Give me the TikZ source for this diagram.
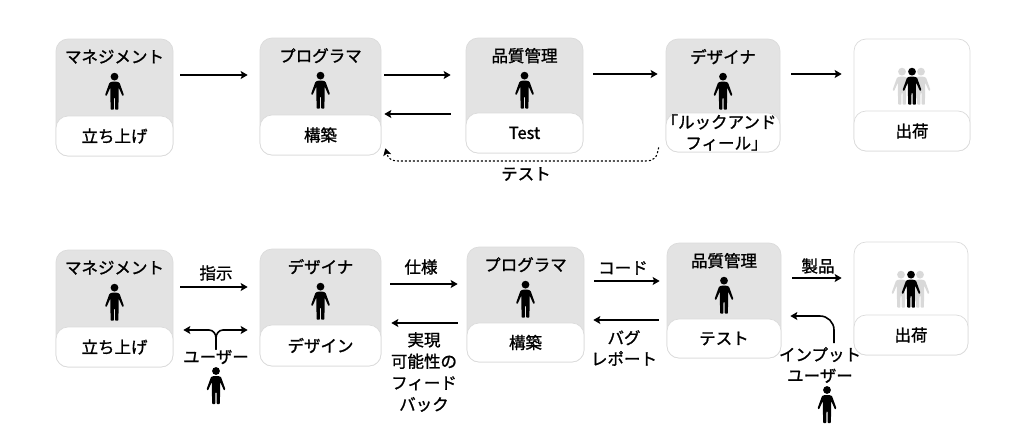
\documentclass[tikz,border=0pt]{standalone}
\usepackage{fontspec}
\setmainfont[FakeBold=1.2]{Noto Sans CJK JP}
\usepackage{xcolor}
\usetikzlibrary{arrows.meta}
\definecolor{kastengrau}{gray}{0.89}
\definecolor{randgrau}{gray}{0.86}
\tikzset{
  Pfeil/.style={line width=1.6pt,->},
  Kasten/.style={draw=randgrau,fill=#1,line width=.7pt,rounded corners=12pt,inner sep=0pt},
  Kopf/.style={font=\fontsize{16.5}{18}\selectfont,inner sep=0pt},
  Schrift/.style={font=\fontsize{16.5}{21}\selectfont,align=center,inner sep=0pt},
  Figur/.pic={
    \fill (0,4) circle (3.9pt);
    \fill[rounded corners=.8pt] (-2.5,9) -- (2.5,9) -- (5,10) -- (9.5,22.5) -- (8,23.5) -- (4.2,15) -- (3.9,37)
      -- (.6,37) -- (.5,25) -- (-.5,25) -- (-.6,37) -- (-3.9,37) -- (-4.2,15) -- (-8,23.5) -- (-9.5,22.5) -- (-5,10) -- cycle;
  }
}
% Name, x, y, Breite, Hoehe, Hoehe unten, Titel, Text unten
\newcommand{\Station}[8]{
  \node[Kasten=kastengrau,minimum width=#4pt,minimum height=#5pt] (#1) at (#2,#3) {};
  \node[Kasten=white,anchor=south,minimum width=#4pt,minimum height=#6pt] (#1-u) at (#1.south) {};
  \node[Kopf] (#1-t) at ([yshift=-18pt]#1.north) {#7};
  \node[Schrift] (#1-s) at (#1-u.center) {#8};
  \pic at ([yshift=-34pt]#1.north) {Figur};
}
\newcommand{\Versand}[6]{
  \node[Kasten=white,minimum width=#4pt,minimum height=#5pt] (#1) at (#2,#3) {};
  \node[Kasten=white,anchor=south,minimum width=#4pt,minimum height=#6pt] (#1-u) at (#1.south) {};
  \node[Schrift] (#1-s) at (#1-u.center) {出荷};
  \pic[black!15] at ([xshift=-10pt,yshift=-29pt]#1.north) {Figur};
  \pic[black!15] at ([xshift=9pt,yshift=-29pt]#1.north) {Figur};
  \pic at ([yshift=-29pt]#1.north) {Figur};
}
\begin{document}
\begin{tikzpicture}[x=1pt,y=-1pt,>={Stealth[inset=1.5pt,length=7pt,width=8pt]}]
\useasboundingbox (0,0) rectangle (1024,439);

%Obere Reihe
\Station{a1}{114.5}{97.5}{117}{117}{40}{マネジメント}{立ち上げ}
\Station{a2}{320.5}{96.5}{121}{117}{40}{プログラマ}{構築}
\Station{a3}{524.5}{95.5}{117}{115}{40}{品質管理}{Test}
\Station{a4}{723}{95.5}{114}{113}{39}{デザイナ}{\hspace*{-8pt}「ルックアンド\\フィール」\hspace*{-7pt}}
\Versand{a5}{912}{95}{116}{112}{40}

\draw[Pfeil] ([xshift=7pt,yshift=22.5pt]a1.east) -- ([xshift=-12pt,yshift=21.5pt]a2.west);
\draw[Pfeil] ([xshift=3pt,yshift=21.5pt]a2.east) -- ([xshift=-15pt,yshift=20.5pt]a3.west);
\draw[Pfeil] ([xshift=-15pt,yshift=-18.5pt]a3.west) -- ([xshift=3pt,yshift=-17.5pt]a2.east);
\draw[Pfeil] ([xshift=10pt,yshift=21.5pt]a3.east) -- ([xshift=-8pt,yshift=21.5pt]a4.west);
\draw[Pfeil] ([xshift=11pt,yshift=21.5pt]a4.east) -- ([xshift=-12pt,yshift=21pt]a5.west);

\node[Schrift] (test) at (526,174) {テスト};
\draw[Pfeil,line width=1.1pt,dash pattern=on 2pt off 2pt]
  ([xshift=-7pt,yshift=5pt]a4.south west) .. controls (657,158) and (654,161) .. (645,161) -- (398,161)
  .. controls (391,161) and (388,158) .. ([xshift=4pt,yshift=7pt]a2.south east);

%Untere Reihe
\Station{b1}{114.5}{308.5}{117}{117}{40}{マネジメント}{立ち上げ}
\Station{b2}{320.5}{307.5}{121}{117}{41}{デザイナ}{デザイン}
\Station{b3}{525.5}{304.5}{117}{115}{39}{プログラマ}{構築}
\Station{b4}{724}{300.5}{114}{115}{39}{品質管理}{テスト}
\Versand{b5}{911}{298.5}{114}{113}{40}

\node[Kopf] (l1) at (216,273) {指示};
\draw[Pfeil] ([xshift=7pt,yshift=21.5pt]b1.east) -- ([xshift=-12pt,yshift=20.5pt]b2.west);

\coordinate (gabel) at (216,338);
\node[Schrift] (nutzer) at (216,357) {ユーザー};
\pic at (216,367) {Figur};
\draw[Pfeil] (nutzer.north) -- (gabel) to[out=90,in=0] ++(-7,-8) -- ([xshift=10pt,yshift=-21.5pt]b1.east);
\draw[Pfeil] (nutzer.north) -- (gabel) to[out=90,in=180] ++(7,-8) -- ([xshift=-12pt,yshift=-22.5pt]b2.west);

\node[Kopf] (l2) at (421,267) {仕様};
\draw[Pfeil] ([xshift=9pt,yshift=23.5pt]b2.east) -- ([xshift=-9pt,yshift=20.5pt]b3.west);
\draw[Pfeil] ([xshift=-9pt,yshift=-18.5pt]b3.west) -- ([xshift=10pt,yshift=-15.5pt]b2.east);
\node[Schrift,font=\fontsize{16.5}{21.5}\selectfont] (l3) at (424,372) {実現\\可能性の\\フィード\\バック};

\node[Kopf] (l4) at (623,268) {コード};
\draw[Pfeil] ([xshift=10pt,yshift=23.5pt]b3.east) -- ([xshift=-7pt,yshift=19.5pt]b4.west);
\draw[Pfeil] ([xshift=-8pt,yshift=-19.5pt]b4.west) -- ([xshift=9pt,yshift=-15.5pt]b3.east);
\node[Schrift] (l5) at (624,348) {バグ\\レポート};

\node[Kopf] (l6) at (818,266) {製品};
\draw[Pfeil] ([xshift=11pt,yshift=22.5pt]b4.east) -- ([xshift=-12pt,yshift=20.5pt]b5.west);
\node[Schrift] (l7) at (820,365) {インプット\\ユーザー};
\pic at (827,386) {Figur};
\draw[Pfeil,rounded corners=14pt] (834,343) -- (834,316) -- ([xshift=9pt,yshift=-15.5pt]b4.east);
\end{tikzpicture}
\end{document}
